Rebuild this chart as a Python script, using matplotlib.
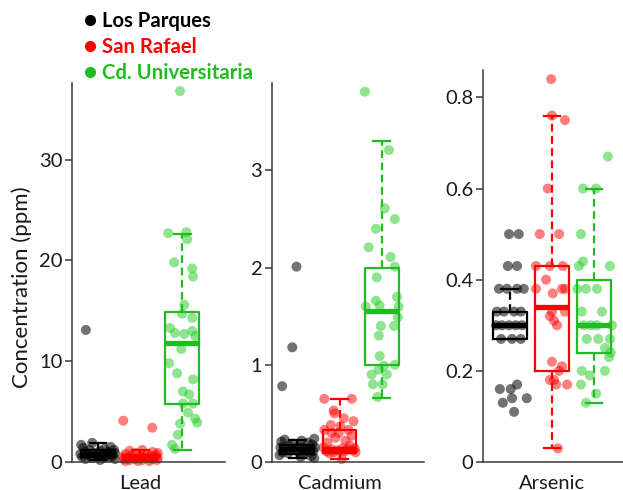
import matplotlib.pyplot as plt
from matplotlib.lines import Line2D

plt.rcParams['font.family'] = ['Lato', 'DejaVu Sans']

sites = ['Los Parques', 'San Rafael', 'Cd. Universitaria']
elements = ['Lead', 'Cadmium', 'Arsenic']
box_colors = ['#000000', '#FF0000', '#22BB22']

# ---- Lead (ppm) ----
lead_lp = [13.1, 1.9, 1.7, 1.5, 1.4, 1.3, 1.2, 1.2, 1.1, 1.0, 1.0, 0.9, 0.9, 0.8,
           0.8, 0.8, 0.7, 0.7, 0.6, 0.6, 0.5, 0.5, 0.5, 0.4, 0.4, 0.3, 0.3, 0.2]
lead_lp_dx = [-0.29, -0.14, -0.40, 0.30, -0.35, 0.15, -0.20, 0.38, 0.05, -0.30,
              0.25, -0.10, 0.40, -0.42, 0.10, 0.30, -0.25, 0.20, -0.05, 0.35,
              -0.38, 0.00, 0.28, -0.15, 0.15, -0.30, 0.40, 0.05]
lead_sr = [4.1, 3.4, 1.2, 1.1, 1.0, 0.9, 0.9, 0.8, 0.8, 0.7, 0.7, 0.6, 0.6, 0.5,
           0.5, 0.5, 0.4, 0.4, 0.4, 0.3, 0.3, 0.3, 0.2, 0.2, 0.2, 0.1, 0.1, 0.1]
lead_sr_dx = [-0.40, 0.29, 0.05, -0.25, 0.30, -0.10, 0.42, -0.35, 0.15, 0.38,
              -0.20, 0.00, 0.25, -0.40, 0.10, 0.35, -0.28, 0.20, 0.42, -0.12,
              0.30, -0.38, 0.05, -0.25, 0.40, -0.05, 0.22, -0.35]
lead_cu = [36.8, 22.7, 22.8, 22.1, 19.8, 19.2, 18.4, 15.6, 14.7, 14.3, 13.3, 12.8,
           12.7, 13.0, 12.5, 11.2, 9.8, 8.8, 8.2, 7.0, 6.7, 5.8, 5.8, 4.9, 4.3,
           3.8, 3.9, 2.7, 1.7, 1.3]
lead_cu_dx = [-0.05, -0.33, 0.10, 0.12, -0.19, 0.24, 0.26, 0.05, 0.00, 0.24,
              -0.29, -0.17, 0.05, 0.24, 0.31, -0.02, -0.31, -0.12, 0.26, 0.02,
              0.17, 0.02, 0.26, 0.14, 0.31, -0.05, 0.36, -0.10, -0.24, -0.17]
lead_q1 = [0.5, 0.2, 5.8]
lead_med = [0.8, 0.4, 11.8]
lead_q3 = [1.2, 0.7, 14.9]
lead_lo = [0.2, 0.05, 1.2]
lead_hi = [1.9, 1.2, 22.6]

# ---- Cadmium (ppm) ----
cd_lp = [2.01, 1.18, 0.78, 0.24, 0.23, 0.22, 0.21, 0.20, 0.19, 0.18, 0.17, 0.16,
         0.15, 0.15, 0.14, 0.14, 0.13, 0.13, 0.12, 0.12, 0.11, 0.11, 0.10, 0.10,
         0.09, 0.08, 0.07, 0.06, 0.05, 0.04]
cd_lp_dx = [-0.02, -0.12, -0.36, 0.40, -0.30, 0.10, -0.38, 0.25, -0.10, 0.35,
            -0.20, 0.05, 0.42, -0.40, 0.15, -0.05, 0.30, -0.28, 0.20, -0.15,
            0.38, 0.00, -0.35, 0.28, -0.22, 0.12, -0.42, 0.33, 0.08, 0.40]
cd_sr = [0.65, 0.65, 0.53, 0.50, 0.45, 0.42, 0.38, 0.37, 0.33, 0.33, 0.30, 0.30,
         0.27, 0.25, 0.22, 0.20, 0.17, 0.15, 0.14, 0.14, 0.13, 0.13, 0.12, 0.12,
         0.11, 0.11, 0.10, 0.10, 0.09, 0.03]
cd_sr_dx = [-0.36, 0.29, -0.14, -0.12, 0.10, 0.33, -0.21, 0.02, -0.36, 0.21,
            -0.19, -0.02, 0.29, -0.10, 0.14, -0.29, 0.24, -0.38, 0.07, 0.36,
            -0.19, 0.19, -0.05, 0.31, -0.31, 0.12, -0.14, 0.38, -0.24, 0.05]
cd_cu = [3.81, 3.21, 2.61, 2.50, 2.40, 2.21, 2.11, 1.90, 2.01, 1.66, 1.70, 1.60,
         1.61, 1.60, 1.49, 1.40, 1.40, 1.30, 1.09, 0.90, 0.99, 1.00, 0.95, 0.90,
         0.80, 0.80, 0.67]
cd_cu_dx = [-0.40, 0.17, 0.07, 0.31, -0.14, -0.31, 0.21, -0.12, 0.31, -0.14,
            0.36, -0.38, -0.05, 0.40, 0.38, -0.02, 0.29, -0.07, -0.05, -0.24,
            0.05, 0.31, -0.07, 0.12, -0.21, 0.02, -0.10]
cd_q1 = [0.08, 0.09, 1.0]
cd_med = [0.13, 0.13, 1.55]
cd_q3 = [0.17, 0.33, 2.0]
cd_lo = [0.04, 0.03, 0.66]
cd_hi = [0.23, 0.65, 3.3]

# ---- Arsenic (ppm) ----
as_lp = [0.50, 0.50, 0.43, 0.43, 0.38, 0.38, 0.38, 0.38, 0.33, 0.33, 0.33, 0.33,
         0.30, 0.30, 0.30, 0.30, 0.30, 0.27, 0.27, 0.27, 0.16, 0.16, 0.17, 0.14,
         0.14, 0.13, 0.11]
as_lp_dx = [-0.02, 0.21, -0.05, 0.17, -0.26, -0.07, 0.17, 0.33, -0.31, -0.14,
            0.10, 0.26, -0.33, -0.19, -0.02, 0.14, 0.29, -0.21, 0.05, 0.26,
            -0.24, 0.02, 0.17, 0.05, 0.40, -0.17, 0.10]
as_sr = [0.84, 0.76, 0.75, 0.60, 0.50, 0.50, 0.43, 0.43, 0.43, 0.40, 0.38, 0.38,
         0.38, 0.37, 0.33, 0.33, 0.32, 0.31, 0.30, 0.22, 0.21, 0.20, 0.18, 0.18,
         0.17, 0.17, 0.03]
as_sr_dx = [-0.02, 0.00, 0.31, -0.10, -0.29, 0.17, -0.38, -0.05, 0.26, -0.14,
            -0.38, 0.24, 0.31, 0.02, 0.31, 0.00, -0.05, 0.05, 0.12, 0.00, 0.24,
            0.17, -0.05, 0.05, 0.10, 0.36, 0.14]
as_cu = [0.67, 0.60, 0.60, 0.50, 0.44, 0.43, 0.43, 0.38, 0.38, 0.38, 0.33, 0.33,
         0.30, 0.30, 0.30, 0.30, 0.27, 0.27, 0.27, 0.25, 0.24, 0.23, 0.20, 0.20,
         0.19, 0.17, 0.15, 0.13]
as_cu_dx = [0.33, -0.26, 0.05, -0.31, -0.26, -0.36, 0.38, -0.40, -0.19, 0.07,
            -0.29, 0.19, -0.24, -0.07, 0.07, 0.43, -0.17, 0.10, 0.38, 0.26, 0.40,
            0.36, -0.29, 0.26, -0.10, -0.31, 0.05, -0.19]
as_q1 = [0.27, 0.20, 0.24]
as_med = [0.30, 0.34, 0.30]
as_q3 = [0.33, 0.43, 0.40]
as_lo = [0.27, 0.03, 0.13]
as_hi = [0.38, 0.76, 0.60]

point_colors = [(0, 0, 0, 0.55), (1, 0, 0, 0.5), (0.13, 0.8, 0.13, 0.5)]

panels = [
    dict(vals=[lead_lp, lead_sr, lead_cu], dx=[lead_lp_dx, lead_sr_dx, lead_cu_dx],
         q1=lead_q1, med=lead_med, q3=lead_q3, lo=lead_lo, hi=lead_hi,
         ylim=(0, 37.6), yticks=[0, 10, 20, 30], ytl=['0', '10', '20', '30'],
         xlim=(0.38, 4.02), rect=[72, 83, 153, 379]),
    dict(vals=[cd_lp, cd_sr, cd_cu], dx=[cd_lp_dx, cd_sr_dx, cd_cu_dx],
         q1=cd_q1, med=cd_med, q3=cd_q3, lo=cd_lo, hi=cd_hi,
         ylim=(0, 3.9), yticks=[0, 1, 2, 3], ytl=['0', '1', '2', '3'],
         xlim=(0.40, 4.0), rect=[272, 83, 152, 379]),
    dict(vals=[as_lp, as_sr, as_cu], dx=[as_lp_dx, as_sr_dx, as_cu_dx],
         q1=as_q1, med=as_med, q3=as_q3, lo=as_lo, hi=as_hi,
         ylim=(0, 0.86), yticks=[0, 0.2, 0.4, 0.6, 0.8],
         ytl=['0', '0.2', '0.4', '0.6', '0.8'],
         xlim=(0.36, 3.69), rect=[483, 70, 140, 392]),
]

W, H = 623, 490
fig = plt.figure(figsize=(W / 100, H / 100), dpi=100)

for k, p in enumerate(panels):
    x0, y0, w, h = p['rect']
    ax = fig.add_axes([x0 / W, 1 - (y0 + h) / H, w / W, h / H])
    for i in range(3):
        xs = [i + 1 + d for d in p['dx'][i]]
        ax.scatter(xs, p['vals'][i], s=52, color=point_colors[i],
                   edgecolors='none', zorder=2, clip_on=False)
        c = box_colors[i]
        stats = [dict(q1=p['q1'][i], med=p['med'][i], q3=p['q3'][i],
                      whislo=p['lo'][i], whishi=p['hi'][i])]
        ax.bxp(stats, positions=[i + 1], widths=0.8, showfliers=False,
               capwidths=0.4, manage_ticks=False,
               boxprops=dict(color=c, linewidth=1.6, zorder=3),
               medianprops=dict(color=c, linewidth=3.8, zorder=3,
                                solid_capstyle='butt'),
               whiskerprops=dict(color=c, linewidth=1.6, linestyle=(0, (3.5, 2)),
                                 zorder=3),
               capprops=dict(color=c, linewidth=1.6, zorder=3))
    ax.set_xlim(*p['xlim'])
    ax.set_ylim(*p['ylim'])
    ax.set_yticks(p['yticks'])
    ax.set_yticklabels(p['ytl'])
    ax.set_xticks([2])
    ax.set_xticklabels([elements[k]])
    for s in ['top', 'right']:
        ax.spines[s].set_visible(False)
    for s in ['left', 'bottom']:
        ax.spines[s].set_color('#3a3a3a')
        ax.spines[s].set_linewidth(1.1)
    ax.tick_params(axis='y', direction='out', length=5, width=1.1,
                   color='#3a3a3a', labelsize=14.5, labelcolor='#1a1a1a', pad=2)
    ax.tick_params(axis='x', length=0, labelsize=14.5, labelcolor='#1a1a1a',
                   pad=9)
    if k == 0:
        ax.set_ylabel('Concentration (ppm)', fontsize=16, color='#1a1a1a')
        ax.yaxis.set_label_coords(-0.26, 0.46)

handles = [Line2D([], [], marker='o', linestyle='', color=c, markersize=7)
           for c in box_colors]
fig.legend(handles, sites, loc='upper left', bbox_to_anchor=(84 / W, 1 - 11 / H),
           frameon=False, borderpad=0, handlelength=0.6, handletextpad=0.3,
           labelspacing=0.3, borderaxespad=0,
           prop=dict(weight='bold', size=14.6), labelcolor=box_colors)

fig.savefig('out.png', dpi=100)
